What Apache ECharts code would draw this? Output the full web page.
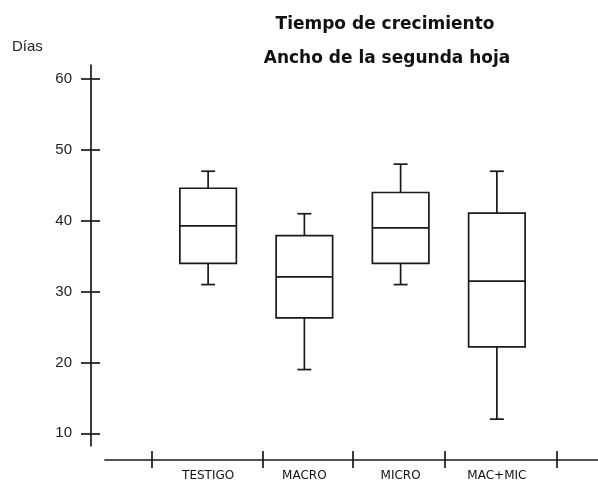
<!DOCTYPE html>
<html>
<head>
<meta charset="utf-8">
<title>Tiempo de crecimiento</title>
<script src="https://cdn.jsdelivr.net/npm/echarts@6/dist/echarts.min.js"></script>
<style>
  html, body { margin: 0; padding: 0; background: #ffffff; }
  #chart { width: 598px; height: 482px; }
</style>
</head>
<body>
<div id="chart"></div>
<script>
// Treatments
const categories = ['TESTIGO', 'MACRO', 'MICRO', 'MAC+MIC'];

// Five-number summaries (días) per treatment
const whiskerLow  = [31, 19, 31, 12];
const quartile1   = [34, 26.3, 34, 22.2];
const medians     = [39.3, 32.1, 39, 31.5];
const quartile3   = [44.6, 37.9, 44, 41.1];
const whiskerHigh = [47, 41, 48, 47];

// Value axis tick labels
const dayTicks = [10, 20, 30, 40, 50, 60];

// ---- layout (not data) ----
const INK = '#1a1a1a';
const LINE_W = 1.7;
// tick marks along the bottom rule, expressed in category-index units
const groupEdges = [-0.583, 0.570, 1.505, 2.461, 3.625];

const boxData = categories.map((c, i) => [
  i, whiskerLow[i], quartile1[i], medians[i], quartile3[i], whiskerHigh[i]
]);

function renderBox(params, api) {
  const i = api.value(0);
  const lo = api.coord([i, api.value(1)]);
  const q1 = api.coord([i, api.value(2)]);
  const md = api.coord([i, api.value(3)]);
  const q3 = api.coord([i, api.value(4)]);
  const hi = api.coord([i, api.value(5)]);
  const band = api.size([1, 0])[0];
  const half = band * 0.587 / 2;
  const cap = band * 0.145 / 2;
  const x = lo[0];
  const st = { stroke: INK, lineWidth: LINE_W, fill: null };
  return {
    type: 'group',
    children: [
      { type: 'line', shape: { x1: x, y1: q3[1], x2: x, y2: hi[1] }, style: st },
      { type: 'line', shape: { x1: x - cap, y1: hi[1], x2: x + cap, y2: hi[1] }, style: st },
      { type: 'line', shape: { x1: x, y1: q1[1], x2: x, y2: lo[1] }, style: st },
      { type: 'line', shape: { x1: x - cap, y1: lo[1], x2: x + cap, y2: lo[1] }, style: st },
      { type: 'rect', shape: { x: x - half, y: q3[1], width: half * 2, height: q1[1] - q3[1] },
        style: { stroke: INK, lineWidth: LINE_W, fill: '#ffffff' } },
      { type: 'line', shape: { x1: x - half, y1: md[1], x2: x + half, y2: md[1] }, style: st }
    ]
  };
}

const Y_MIN = 8.25, Y_MAX = 62;
const X_MIN = -1.071, X_MAX = 4.051;

const chart = echarts.init(document.getElementById('chart'), null, { renderer: 'canvas' });

chart.setOption({
  backgroundColor: '#ffffff',
  animation: false,
  graphic: [
    { type: 'text', x: 385, y: 25,
      style: { text: 'Tiempo de crecimiento', fontFamily: 'DejaVu Sans', fontWeight: 'bold',
               fontSize: 17, fill: '#111', align: 'center', verticalAlign: 'middle' } },
    { type: 'text', x: 387, y: 59,
      style: { text: 'Ancho de la segunda hoja', fontFamily: 'DejaVu Sans', fontWeight: 'bold',
               fontSize: 17, fill: '#111', align: 'center', verticalAlign: 'middle' } },
    { type: 'text', x: 12, y: 47,
      style: { text: 'Días', fontFamily: 'Liberation Sans', fontSize: 15,
               fill: '#222', align: 'left', verticalAlign: 'middle' } }
  ],
  grid: [
    { left: 160, right: 53, top: 65, bottom: 36.3 },
    { left: 105, right: 0, top: 440, bottom: 22 }
  ],
  xAxis: [
    {
      type: 'category', gridIndex: 0, data: categories, position: 'bottom',
      axisLine: { show: false }, axisTick: { show: false },
      axisLabel: { interval: 0, margin: 24, color: '#111', fontFamily: 'DejaVu Sans', fontSize: 12 },
      splitLine: { show: false }
    },
    {
      type: 'value', gridIndex: 1, position: 'bottom', min: X_MIN, max: X_MAX,
      axisLine: { show: true, lineStyle: { color: INK, width: LINE_W } },
      axisTick: { show: true, inside: false, length: 8, customValues: groupEdges,
                  lineStyle: { color: INK, width: LINE_W } },
      axisLabel: { show: false }, splitLine: { show: false }
    },
    {
      type: 'value', gridIndex: 1, position: 'bottom', min: X_MIN, max: X_MAX,
      axisLine: { show: false },
      axisTick: { show: true, inside: true, length: 9, customValues: groupEdges,
                  lineStyle: { color: INK, width: LINE_W } },
      axisLabel: { show: false }, splitLine: { show: false }
    }
  ],
  yAxis: [
    {
      type: 'value', gridIndex: 0, position: 'left', offset: 69, min: Y_MIN, max: Y_MAX,
      axisLine: { show: true, lineStyle: { color: INK, width: LINE_W } },
      axisTick: { show: true, inside: false, length: 10, customValues: dayTicks,
                  lineStyle: { color: INK, width: LINE_W } },
      axisLabel: { customValues: dayTicks, margin: 19, color: '#222',
                   fontFamily: 'Liberation Sans', fontSize: 15 },
      splitLine: { show: false }
    },
    {
      type: 'value', gridIndex: 0, position: 'left', offset: 69, min: Y_MIN, max: Y_MAX,
      axisLine: { show: false },
      axisTick: { show: true, inside: true, length: 9, customValues: dayTicks,
                  lineStyle: { color: INK, width: LINE_W } },
      axisLabel: { show: false }, splitLine: { show: false }
    },
    { type: 'value', gridIndex: 1, show: false, min: 0, max: 1 }
  ],
  series: [
    {
      type: 'custom', name: 'Días',
      xAxisIndex: 0, yAxisIndex: 0,
      data: boxData,
      encode: { x: 0, y: [1, 2, 3, 4, 5] },
      renderItem: renderBox,
      clip: false
    }
  ]
});
</script>
</body>
</html>
